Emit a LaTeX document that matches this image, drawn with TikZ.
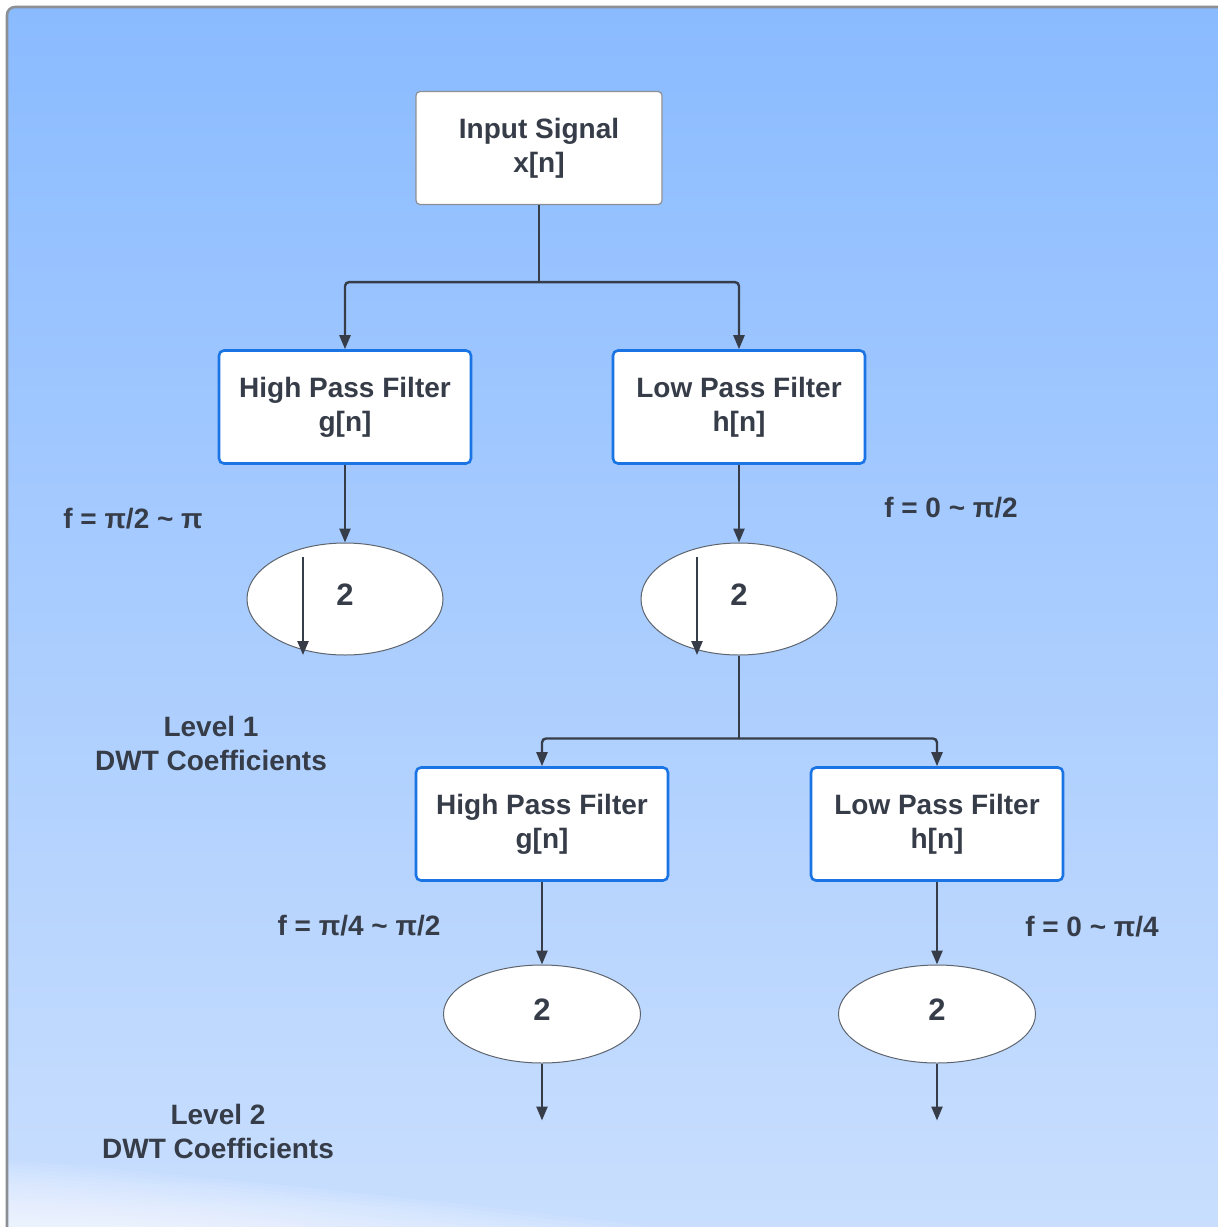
\documentclass[tikz,border=0pt]{standalone}
\usepackage{fontspec}
\setmainfont{Liberation Sans}
\usetikzlibrary{shapes.geometric,arrows.meta,calc}

\definecolor{bgtop}{HTML}{8ABBFF}
\definecolor{bgbot}{HTML}{CADFFE}
\definecolor{ink}{HTML}{363D49}
\definecolor{filterblue}{HTML}{1B74E4}
\definecolor{frame}{HTML}{8C8F94}

\tikzset{
  lbl/.style={text=ink, font=\bfseries\fontsize{14}{17}\selectfont, align=center},
  plainbox/.style={lbl, draw=frame, line width=0.6pt, fill=white, rounded corners=2pt,
    minimum width=123pt, minimum height=56.5pt},
  filterbox/.style={lbl, draw=filterblue, line width=1.3pt, fill=white, rounded corners=2.5pt,
    minimum width=126pt, minimum height=56.5pt},
  downsample/.style={lbl, font=\bfseries\fontsize{15.5}{17}\selectfont, ellipse,
    draw=ink!80, line width=0.5pt, fill=white, inner sep=0pt, text depth=4pt},
  conn/.style={draw=ink, line width=1.2pt, rounded corners=2pt,
    -{Triangle[length=7pt,width=5.5pt]}},
  wire/.style={draw=ink, line width=1.2pt, rounded corners=2pt},
}

\begin{document}
\begin{tikzpicture}[x=0.5pt,y=-0.5pt]
  \useasboundingbox (0,0) rectangle (1218,1227);

  % backdrop panel with vertical gradient
  \shade[top color=bgtop, bottom color=bgbot, rounded corners=4pt]
    (7,7) rectangle (1240,1250);
  % pale glow along the lower left
  \foreach \i in {0,...,15}
    \fill[white, opacity=0.075]
      (7,1250) -- (7,{1160+4*\i})
      .. controls (200,{1175+3.5*\i}) and ({500-20*\i},{1205+1.5*\i}) .. ({820-40*\i},1250) -- cycle;
  \draw[frame, line width=1.3pt, rounded corners=4pt]
    (7,1250) -- (7,7) -- (1240,7);

  % nodes
  \node[plainbox] (inp) at (539,148) {Input Signal\\x[n]};

  \node[filterbox] (hp1) at (345,407) {High Pass Filter\\g[n]};
  \node[filterbox] (lp1) at (739,407) {Low Pass Filter\\h[n]};

  \node[downsample, minimum width=98pt, minimum height=56pt] (ds1) at (345,599) {2};
  \node[downsample, minimum width=98pt, minimum height=56pt] (ds2) at (739,599) {2};

  \node[filterbox] (hp2) at (542,824) {High Pass Filter\\g[n]};
  \node[filterbox] (lp2) at (937,824) {Low Pass Filter\\h[n]};

  \node[downsample, minimum width=98.5pt, minimum height=49pt] (ds3) at (542,1014) {2};
  \node[downsample, minimum width=98.5pt, minimum height=49pt] (ds4) at (937,1014) {2};

  % band labels
  \node[lbl] (band1) at (133,519) {f = π/2 \textasciitilde{} π};
  \node[lbl] (band2) at (951,508) {f = 0 \textasciitilde{} π/2};
  \node[lbl] (band3) at (359,926) {f = π/4 \textasciitilde{} π/2};
  \node[lbl] (band4) at (1092,927) {f = 0 \textasciitilde{} π/4};

  \node[lbl] (lev1) at (211,743) {Level 1\\DWT Coefficients};
  \node[lbl] (lev2) at (218,1131) {Level 2\\DWT Coefficients};

  % first split
  \draw[wire] (inp.south) -- ++(0,77) coordinate (split1);
  \draw[conn] (split1) -| (hp1.north);
  \draw[conn] (split1) -| (lp1.north);

  \draw[conn] (hp1.south) -- (ds1.north);
  \draw[conn] (lp1.south) -- (ds2.north);

  % down-sampling marks inside the first level
  \draw[conn] ($(ds1.center)+(-42,-42)$) -- ($(ds1.center)+(-42,56)$);
  \draw[conn] ($(ds2.center)+(-42,-42)$) -- ($(ds2.center)+(-42,56)$);

  % second split from the low band
  \draw[wire] (ds2.south) -- ++(0,83) coordinate (split2);
  \draw[conn] (split2) -| (hp2.north);
  \draw[conn] (split2) -| (lp2.north);

  \draw[conn] (hp2.south) -- (ds3.north);
  \draw[conn] (lp2.south) -- (ds4.north);

  % outputs
  \coordinate (out3) at ($(ds3.south)+(0,57)$);
  \coordinate (out4) at ($(ds4.south)+(0,57)$);
  \draw[conn] (ds3.south) -- (out3);
  \draw[conn] (ds4.south) -- (out4);
\end{tikzpicture}
\end{document}
